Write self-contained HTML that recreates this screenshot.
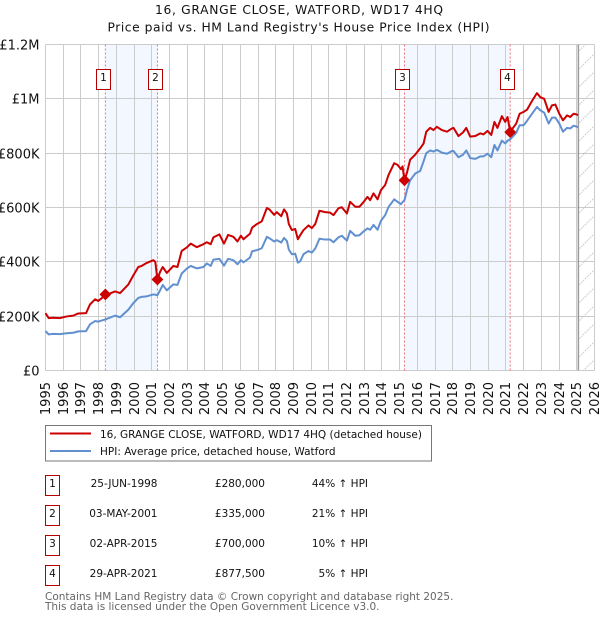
<!DOCTYPE html>
<html>
<head>
<meta charset="utf-8">
<title>16, GRANGE CLOSE, WATFORD, WD17 4HQ</title>
<style>
html,body{margin:0;padding:0;background:#fff;width:600px;height:620px;overflow:hidden}
svg{display:block;font-family:"DejaVu Sans","Liberation Sans",sans-serif;fill:#000}
</style>
</head>
<body>
<svg id="chart" xmlns="http://www.w3.org/2000/svg" width="600" height="620" viewBox="0 0 600 620">
  <defs>
    <pattern id="hatch" patternUnits="userSpaceOnUse" width="18" height="18">
      <line x1="0" y1="18" x2="18" y2="0" stroke="#c8c8c8" stroke-width="1" stroke-dasharray="1.5,1"/>
    </pattern>
  </defs>
  <text x="299" y="14" text-anchor="middle" font-size="12.3" textLength="288" lengthAdjust="spacing" fill="#111">16, GRANGE CLOSE, WATFORD, WD17 4HQ</text>
  <text x="298.500" y="31.500" text-anchor="middle" font-size="12.300" textLength="382" lengthAdjust="spacing" fill="#111">Price paid vs. HM Land Registry's House Price Index (HPI)</text>
  <g id="bands"></g>
  <g id="grid"></g>
  <g id="forecast"></g>
  <g id="sale-lines"></g>
  <g id="series"></g>
  <g id="markers"></g>
  <g id="badges"></g>
  <g id="y-axis"></g>
  <g id="x-axis"></g>

  <g>
    <rect x="45.5" y="425.5" width="386" height="35.500" fill="#fff" stroke="#777" stroke-width="1"/>
    <line x1="50" x2="91" y1="433.500" y2="433.500" stroke="#cc0000" stroke-width="2"/>
    <text x="100" y="438" font-size="10.5" fill="#111">16, GRANGE CLOSE, WATFORD, WD17 4HQ (detached house)</text>
    <line x1="50" x2="91" y1="451" y2="451" stroke="#6090d0" stroke-width="2"/>
    <text x="100" y="455" font-size="10.5" fill="#111">HPI: Average price, detached house, Watford</text>
  </g>

  <g font-size="10.500" fill="#111">
    <g>
      <rect x="45.5" y="475.500" width="14" height="20" fill="#fff" stroke="#b50000"/>
      <text x="52.500" y="487" text-anchor="middle">1</text>
      <text x="157.500" y="487" text-anchor="end">25-JUN-1998</text>
      <text x="265" y="487" text-anchor="end">£280,000</text>
      <text x="368" y="487" text-anchor="end">44% ↑ HPI</text>
    </g>
    <g>
      <rect x="45.5" y="505.500" width="14" height="20" fill="#fff" stroke="#b50000"/>
      <text x="52.500" y="517" text-anchor="middle">2</text>
      <text x="157.500" y="517" text-anchor="end">03-MAY-2001</text>
      <text x="265" y="517" text-anchor="end">£335,000</text>
      <text x="368" y="517" text-anchor="end">21% ↑ HPI</text>
    </g>
    <g>
      <rect x="45.5" y="535.500" width="14" height="20" fill="#fff" stroke="#b50000"/>
      <text x="52.500" y="547" text-anchor="middle">3</text>
      <text x="157.500" y="547" text-anchor="end">02-APR-2015</text>
      <text x="265" y="547" text-anchor="end">£700,000</text>
      <text x="368" y="547" text-anchor="end">10% ↑ HPI</text>
    </g>
    <g>
      <rect x="45.5" y="565.500" width="14" height="20" fill="#fff" stroke="#b50000"/>
      <text x="52.500" y="577" text-anchor="middle">4</text>
      <text x="157.500" y="577" text-anchor="end">29-APR-2021</text>
      <text x="265" y="577" text-anchor="end">£877,500</text>
      <text x="368" y="577" text-anchor="end">5% ↑ HPI</text>
    </g>
  </g>

  <text x="45" y="600" font-size="10.500" fill="#666">Contains HM Land Registry data © Crown copyright and database right 2025.</text>
  <text x="45" y="610" font-size="10.500" fill="#666">This data is licensed under the Open Government Licence v3.0.</text>
</svg>
<script>
const dates = [1995,1995.18,1995.44,1995.82,1996.2,1996.57,1996.85,1997.29,1997.51,1997.8,1997.98,1998.38,1998.93,1999.21,1999.68,1999.96,2000.24,2000.43,2000.72,2001.09,2001.2,2001.32,2001.47,2001.62,2001.85,2002.22,2002.45,2002.69,2002.98,2003.2,2003.54,2003.92,2004.11,2004.33,2004.48,2004.82,2005.08,2005.31,2005.61,2005.84,2006.03,2006.18,2006.55,2006.67,2006.93,2007.21,2007.5,2007.64,2007.91,2008.06,2008.31,2008.47,2008.63,2008.74,2008.91,2009.1,2009.25,2009.38,2009.57,2009.85,2010.04,2010.23,2010.47,2010.79,2011.07,2011.26,2011.54,2011.73,2012.02,2012.2,2012.49,2012.73,2012.96,2013.18,2013.33,2013.52,2013.75,2013.94,2014.18,2014.37,2014.69,2014.88,2015.07,2015.16,2015.27,2015.41,2015.59,2015.88,2016.16,2016.35,2016.5,2016.72,2016.91,2017.1,2017.38,2017.67,2017.95,2018.04,2018.32,2018.57,2018.76,2018.98,2019.27,2019.55,2019.73,2019.96,2020.17,2020.35,2020.52,2020.77,2020.96,2021.09,2021.24,2021.58,2021.77,2022,2022.19,2022.47,2022.75,2022.94,2023.16,2023.41,2023.6,2023.79,2024.01,2024.22,2024.45,2024.63,2024.82,2025.01,2025.07];
const priceValues = [211,193,194,193,199,202,210,211,243,262,256,277,291,285,317,350,381,385,396,406,400,335,363,381,359,385,381,440,453,467,454,465,472,465,490,501,467,499,492,475,496,483,504,526,539,549,598,593,573,583,568,593,578,539,517,521,483,498,517,534,524,539,588,583,581,572,597,601,578,621,603,603,620,639,627,652,630,664,683,720,763,757,741,751,700,728,776,795,818,836,879,893,885,897,885,879,891,893,863,876,893,861,863,873,869,882,867,915,893,936,915,933,879,909,945,952,960,992,1021,1006,1000,952,976,979,945,921,939,933,945,942,940];
const hpiValues = [145,133,135,134,137,139,144,145,170,182,180,188,202,196,224,248,267,271,273,280,279,277,295,315,295,317,315,357,375,385,376,381,394,385,408,411,386,411,406,391,406,398,416,439,443,450,492,487,475,480,471,488,477,445,428,430,397,402,428,440,434,449,485,482,482,472,490,496,478,514,496,498,512,523,518,536,518,551,572,602,630,621,612,620,627,664,700,725,735,770,800,810,806,812,802,798,808,808,785,794,810,782,779,788,788,798,785,830,810,846,836,846,851,875,903,903,919,945,970,958,949,909,931,931,909,879,893,891,901,897,896];
const saleDates = [1998.38,2001.32,2015.27,2021.24];
const salePrices = [280,335,700,877.5];
const saleLabels = ['1','2','3','4'];
const yTicks = [0,200,400,600,800,1000,1200];
const yTickLabels = ['£0','£200K','£400K','£600K','£800K','£1M','£1.2M'];
const xTicks = [1995,1996,1997,1998,1999,2000,2001,2002,2003,2004,2005,2006,2007,2008,2009,2010,2011,2012,2013,2014,2015,2016,2017,2018,2019,2020,2021,2022,2023,2024,2025,2026];
const dataEnd = 2025.09;

const NS = 'http://www.w3.org/2000/svg';
const plotLeft = 45.5, plotRight = 594.5, plotTop = 44.5, plotBottom = 370.5;
const xStart = xTicks[0], xEnd = xTicks[xTicks.length - 1];
const yMax = yTicks[yTicks.length - 1];
function xScale(v) { return plotLeft + (v - xStart) / (xEnd - xStart) * (plotRight - plotLeft); }
function yScale(v) { return plotBottom - v / yMax * (plotBottom - plotTop); }
function snap(p) { return Math.floor(p) + 0.5; }
function make(tag, parent, attrs) {
  const el = document.createElementNS(NS, tag);
  for (const k in attrs) el.setAttribute(k, attrs[k]);
  parent.appendChild(el);
  return el;
}
const bandsG = document.getElementById('bands');
const gridG = document.getElementById('grid');
const forecastG = document.getElementById('forecast');
const saleLinesG = document.getElementById('sale-lines');
const seriesG = document.getElementById('series');
const markersG = document.getElementById('markers');
const badgesG = document.getElementById('badges');
const yAxisG = document.getElementById('y-axis');
const xAxisG = document.getElementById('x-axis');

for (let i = 0; i + 1 < saleDates.length; i += 2) {
  const band = make('rect', bandsG, {x: xScale(saleDates[i]), y: plotTop, width: xScale(saleDates[i + 1]) - xScale(saleDates[i]), height: plotBottom - plotTop, fill: '#f3f7ff'});
  
  
}
yTicks.forEach(function (t, i) {
  const py = snap(yScale(t));
  const line = make('line', gridG, {x1: plotLeft, x2: plotRight, y1: py, y2: py, stroke: '#cccccc', 'stroke-width': 1});
  
  
  const label = make('text', yAxisG, {x: 39.5, y: py + 5, 'text-anchor': 'end', 'font-size': 13, fill: '#111'});
  label.textContent = yTickLabels[i];
  
  
});
xTicks.forEach(function (t) {
  const px = snap(xScale(t));
  const line = make('line', gridG, {x1: px, x2: px, y1: plotTop, y2: plotBottom, stroke: '#cccccc', 'stroke-width': 1});
  
  
  const label = make('text', xAxisG, {transform: 'translate(' + (px + 4.5) + ',382) rotate(-90)', 'text-anchor': 'end', 'font-size': 13, fill: '#111'});
  label.textContent = String(t);
  
  
});

const hatchRect = make('rect', forecastG, {x: xScale(dataEnd), y: plotTop, width: plotRight - xScale(dataEnd), height: plotBottom - plotTop, fill: 'url(#hatch)'});


const endLine = make('line', forecastG, {x1: xScale(dataEnd), x2: xScale(dataEnd), y1: plotTop, y2: plotBottom, stroke: '#999999', 'stroke-width': 1.5});



saleDates.forEach(function (d) {
  const px = xScale(d);
  const line = make('line', saleLinesG, {x1: px, x2: px, y1: plotTop, y2: plotBottom, stroke: '#f0707c', 'stroke-width': 1, 'stroke-dasharray': '2,2'});
  
  
});

function pathFor(values) {
  return values.map(function (v, i) { return (i ? 'L' : 'M') + xScale(dates[i]).toFixed(2) + ' ' + yScale(v).toFixed(2); }).join(' ');
}
const hpiLine = make('path', seriesG, {d: pathFor(hpiValues), fill: 'none', stroke: '#6090d0', 'stroke-width': 2, 'stroke-linejoin': 'round'});


const priceLine = make('path', seriesG, {d: pathFor(priceValues), fill: 'none', stroke: '#cc0000', 'stroke-width': 2, 'stroke-linejoin': 'round'});



saleDates.forEach(function (d, i) {
  const px = xScale(d), py = yScale(salePrices[i]), r = 5.2;
  const marker = make('polygon', markersG, {points: [px - r, py, px, py - r, px + r, py, px, py + r].join(' '), fill: '#cc0000', stroke: '#cc0000', 'stroke-width': 1, 'stroke-linejoin': 'round'});
  
  
  const bx = Math.round(px - 2.8 - 7) + 0.5;
  const box = make('rect', badgesG, {x: bx, y: 69.5, width: 14, height: 20, fill: '#fff', stroke: '#b50000', 'stroke-width': 1});
  
  
  const num = make('text', badgesG, {x: bx + 7, y: 81, 'text-anchor': 'middle', 'font-size': 10.5, fill: '#111'});
  num.textContent = saleLabels[i];
  
  
});
</script>
</body>
</html>
